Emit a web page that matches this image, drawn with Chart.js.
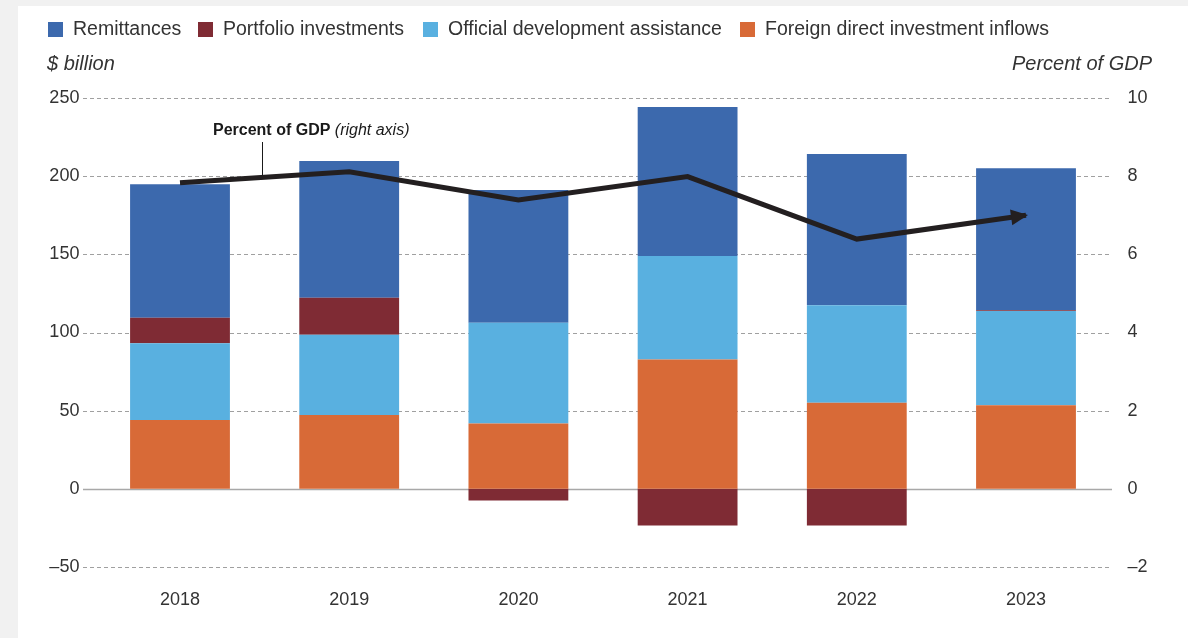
<!DOCTYPE html>
<html lang="en">

<head>
    <meta charset="UTF-8">
    <title>Financial inflows</title>
    <script src="https://cdn.jsdelivr.net/npm/chart.js"></script>
    <style>
        html, body {
            margin: 0;
            padding: 0;
            background: #f1f1f1;
        }

        .chart-container {
            position: relative;
            width: 1188px;
            height: 638px;
        }
    </style>
</head>

<body>
    <div class="chart-container">
        <canvas id="flowChart"></canvas>
    </div>

    <script>
        // Data ($ billion, right axis in percent of GDP)
        const years = ['2018', '2019', '2020', '2021', '2022', '2023'];
        const fdiInflows = [44.0, 47.3, 41.8, 82.7, 55.0, 53.5];
        const oda = [49.2, 51.2, 64.5, 66.3, 62.4, 60.3];
        const portfolio = [16.3, 23.8, -7.5, -23.5, -23.5, 0.5];
        const remittances = [85.3, 87.4, 84.9, 95.2, 96.8, 90.7];
        const gdpShare = [7.83, 8.11, 7.39, 7.99, 6.39, 7.0];
        const leftTicks = [-50, 0, 50, 100, 150, 200, 250];

        const FONT = '"Liberation Sans", Arial, Helvetica, sans-serif';
        const TEXT = '#333333';
        const fmt = v => (v < 0 ? '\u2013' + Math.abs(v) : String(v));

        // background panel, dashed grid, zero line
        const backdrop = {
            id: 'backdrop',
            beforeDraw(chart) {
                const ctx = chart.ctx;
                ctx.save();
                ctx.fillStyle = '#f1f1f1';
                ctx.fillRect(0, 0, chart.width, chart.height);
                ctx.fillStyle = '#ffffff';
                ctx.fillRect(18, 6, chart.width - 18, chart.height - 6);
                ctx.restore();
            },
            beforeDatasetsDraw(chart) {
                const ctx = chart.ctx;
                const y = chart.scales.y;
                ctx.save();
                leftTicks.forEach(t => {
                    const py = Math.round(y.getPixelForValue(t)) + 0.5;
                    ctx.beginPath();
                    if (t === 0) {
                        ctx.setLineDash([]);
                        ctx.strokeStyle = '#a8a8a8';
                        ctx.lineWidth = 1.5;
                    } else {
                        ctx.setLineDash([4, 3]);
                        ctx.strokeStyle = '#a0a0a0';
                        ctx.lineWidth = 1;
                    }
                    ctx.moveTo(83, py);
                    ctx.lineTo(1112, py);
                    ctx.stroke();
                });
                ctx.restore();
            }
        };

        // legend, axis titles, annotation, arrow head
        const decorations = {
            id: 'decorations',
            afterDraw(chart) {
                const ctx = chart.ctx;
                ctx.save();

                // legend (drawn in reverse of stacking order)
                const legendX = [48, 198, 423, 740];
                const bars = chart.data.datasets.filter(d => d.type !== 'line').reverse();
                ctx.font = '19.5px ' + FONT;
                ctx.textBaseline = 'middle';
                bars.forEach((d, i) => {
                    ctx.fillStyle = d.backgroundColor;
                    ctx.fillRect(legendX[i], 22, 15, 15);
                    ctx.fillStyle = TEXT;
                    ctx.fillText(d.label, legendX[i] + 25, 30);
                });

                // axis titles
                ctx.font = 'italic 20px ' + FONT;
                ctx.textAlign = 'left';
                ctx.fillText('$ billion', 47, 64);
                ctx.textAlign = 'right';
                ctx.fillText('Percent of GDP', 1152, 64);

                // annotation for the line
                ctx.textAlign = 'left';
                ctx.font = 'bold 16px ' + FONT;
                const lead = 'Percent of GDP ';
                ctx.fillStyle = '#1a1a1a';
                ctx.fillText(lead, 213, 131);
                const w = ctx.measureText(lead).width;
                ctx.font = 'italic 16px ' + FONT;
                ctx.fillText('(right axis)', 213 + w, 131);
                ctx.strokeStyle = '#1a1a1a';
                ctx.lineWidth = 1;
                ctx.beginPath();
                ctx.moveTo(262.5, 142);
                ctx.lineTo(262.5, 176);
                ctx.stroke();

                // arrow head at the end of the line
                const pts = chart.getDatasetMeta(4).data;
                const a = pts[pts.length - 2], b = pts[pts.length - 1];
                const ang = Math.atan2(b.y - a.y, b.x - a.x);
                ctx.translate(b.x, b.y);
                ctx.rotate(ang);
                ctx.fillStyle = '#231f20';
                ctx.beginPath();
                ctx.moveTo(2, 0);
                ctx.lineTo(-15, -8);
                ctx.lineTo(-15, 8);
                ctx.closePath();
                ctx.fill();
                ctx.restore();
            }
        };

        const barSet = (label, data, color) => ({
            type: 'bar',
            label: label,
            data: data,
            backgroundColor: color,
            stack: 'flows',
            yAxisID: 'y',
            barPercentage: 1,
            categoryPercentage: 0.59,
            order: 2
        });

        new Chart(document.getElementById('flowChart'), {
            data: {
                labels: years,
                datasets: [
                    barSet('Foreign direct investment inflows', fdiInflows, '#d86a37'),
                    barSet('Official development assistance', oda, '#59b0e0'),
                    barSet('Portfolio investments', portfolio, '#7f2b34'),
                    barSet('Remittances', remittances, '#3c69ad'),
                    {
                        type: 'line',
                        label: 'Percent of GDP',
                        data: gdpShare,
                        yAxisID: 'y1',
                        borderColor: '#231f20',
                        borderWidth: 5,
                        pointRadius: 0,
                        tension: 0,
                        fill: false,
                        order: 1
                    }
                ]
            },
            options: {
                responsive: true,
                maintainAspectRatio: false,
                animation: false,
                layout: { padding: { top: 98, left: 0, right: 0, bottom: 0 } },
                plugins: {
                    legend: { display: false },
                    tooltip: { enabled: false }
                },
                scales: {
                    x: {
                        stacked: true,
                        grid: { display: false, drawTicks: false },
                        border: { display: false },
                        ticks: {
                            color: TEXT,
                            font: { family: FONT, size: 18 },
                            padding: 22
                        },
                        afterFit: s => { s.height = 71; }
                    },
                    y: {
                        stacked: true,
                        position: 'left',
                        min: -50,
                        max: 250,
                        grid: { display: false, drawTicks: false },
                        border: { display: false },
                        ticks: {
                            stepSize: 50,
                            color: TEXT,
                            font: { family: FONT, size: 18 },
                            padding: 16,
                            callback: v => fmt(v)
                        },
                        afterFit: s => { s.width = 95.4; }
                    },
                    y1: {
                        position: 'right',
                        min: -2,
                        max: 10,
                        grid: { display: false, drawTicks: false },
                        border: { display: false },
                        ticks: {
                            stepSize: 2,
                            color: TEXT,
                            font: { family: FONT, size: 18 },
                            padding: 17,
                            callback: v => fmt(v)
                        },
                        afterFit: s => { s.width = 77.4; }
                    }
                }
            },
            plugins: [backdrop, decorations]
        });
    </script>
</body>

</html>
